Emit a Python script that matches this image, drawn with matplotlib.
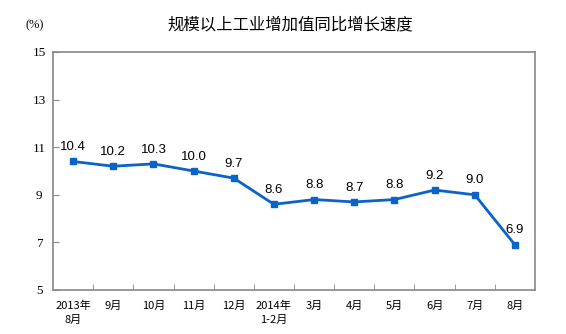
import matplotlib
matplotlib.use("Agg")
import matplotlib.pyplot as plt
from matplotlib.ticker import FixedLocator

plt.rcParams['font.family'] = ['Noto Sans CJK SC', 'DejaVu Sans']

categories = ["2013年\n8月", "9月", "10月", "11月", "12月", "2014年\n1-2月",
              "3月", "4月", "5月", "6月", "7月", "8月"]
values = [10.4, 10.2, 10.3, 10.0, 9.7, 8.6, 8.8, 8.7, 8.8, 9.2, 9.0, 6.9]
yticks = [5, 7, 9, 11, 13, 15]
title = "规模以上工业增加值同比增长速度"
unit = "(%)"

W, H = 566, 334
fig = plt.figure(figsize=(W / 100, H / 100), dpi=100)
L, T, R, B = 53, 52, 535, 290
ax = fig.add_axes([L / W, 1 - B / H, (R - L) / W, (B - T) / H])

x = list(range(len(values)))
ax.plot(x, values, color="#0A64C8", lw=2, marker="s", ms=4.5)
for xi, v in zip(x, values):
    ax.annotate(f"{v:.1f}", (xi, v), xytext=(0, 6), textcoords="offset points",
                ha="center", va="bottom", fontsize=9.5, family="Liberation Sans")

ax.set_xlim(-0.5, len(values) - 0.5)
ax.set_ylim(5, 15)
ax.set_yticks(yticks)
ax.set_yticklabels([str(t) for t in yticks], family="Liberation Serif", fontsize=9.5)
ax.set_xticks(x)
ax.set_xticklabels(categories, fontsize=8, linespacing=1.4)
ax.xaxis.set_minor_locator(FixedLocator([i + 0.5 for i in range(len(values) - 1)]))
ax.tick_params(axis="x", which="major", length=0, pad=8)
ax.tick_params(axis="x", which="minor", length=4, direction="in", color="#888888")
ax.tick_params(axis="y", length=4, direction="in", color="#888888", pad=10)
for s in ax.spines.values():
    s.set_color("#888888")
    s.set_linewidth(1.2)
for lbl in ax.get_yticklabels():
    lbl.set_horizontalalignment("center")

fig.text(290 / W, 1 - 25 / H, title, ha="center", va="center", fontsize=11.8)
fig.text(35 / W, 1 - 25 / H, unit, ha="center", va="center", fontsize=9,
         family="Liberation Serif")

fig.savefig("out.png", dpi=100)
